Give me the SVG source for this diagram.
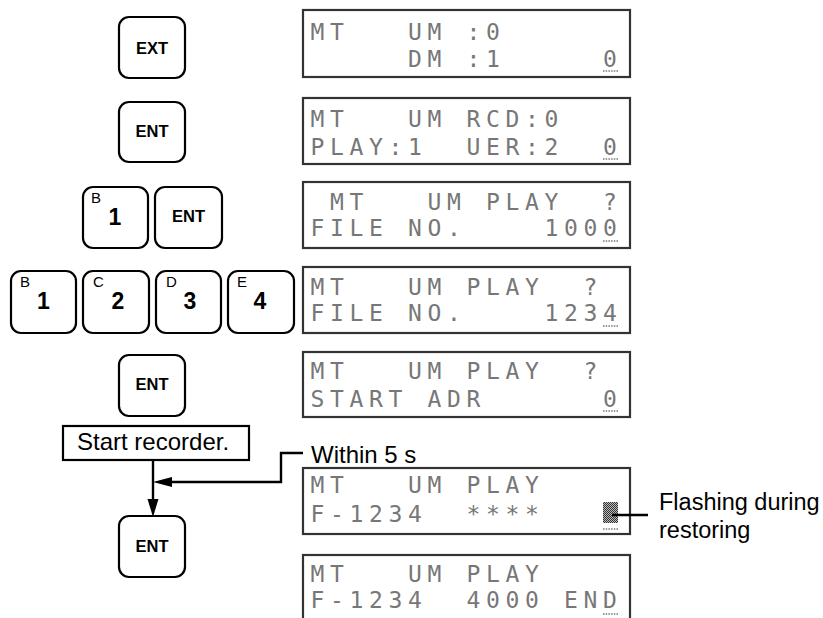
<svg xmlns="http://www.w3.org/2000/svg" width="823" height="618" viewBox="0 0 823 618">
<style>
.key{fill:#fff;stroke:#000;stroke-width:2.2}
.kl{font-family:"Liberation Sans",Arial,sans-serif;font-weight:bold;font-size:16.5px;fill:#000;text-anchor:middle}
.dg{font-family:"Liberation Sans",Arial,sans-serif;font-weight:bold;font-size:23px;fill:#000;text-anchor:middle}
.sl{font-family:"Liberation Sans",Arial,sans-serif;font-size:15px;fill:#000}
.lcd{fill:#fff;stroke:#333;stroke-width:2.2}
.lt{font-family:"DejaVu Sans Mono","Liberation Mono",monospace;font-size:23px;fill:#777;letter-spacing:5.65px;white-space:pre}
.cur{stroke:#777;stroke-width:1.5;stroke-dasharray:1.5 1.2}
.lbl{font-family:"Liberation Sans",Arial,sans-serif;font-size:24px;fill:#000}
.ln{fill:none;stroke:#000;stroke-width:2.4}
</style>
<defs>
<pattern id="chk" width="2" height="2" patternUnits="userSpaceOnUse">
<rect width="2" height="2" fill="#bbb"/>
<rect width="1" height="1" fill="#333"/>
<rect x="1" y="1" width="1" height="1" fill="#333"/>
</pattern>
</defs>

<!-- keys -->
<g id="key-ext"><rect class="key" x="119" y="17" width="66" height="61" rx="10"/><text class="kl" x="152" y="54">EXT</text></g>
<g id="key-ent1"><rect class="key" x="119" y="102" width="66" height="60" rx="10"/><text class="kl" x="152" y="137">ENT</text></g>
<g id="key-b1-r3"><rect class="key" x="83" y="187" width="65" height="61" rx="10"/><text class="sl" x="91" y="203">B</text><text class="dg" x="115" y="225">1</text></g>
<g id="key-ent2"><rect class="key" x="155" y="187" width="67" height="61" rx="10"/><text class="kl" x="188.5" y="222">ENT</text></g>
<g id="key-b1"><rect class="key" x="11" y="271" width="65" height="62" rx="10"/><text class="sl" x="20" y="287">B</text><text class="dg" x="43.5" y="309">1</text></g>
<g id="key-c2"><rect class="key" x="83" y="271" width="66" height="62" rx="10"/><text class="sl" x="93" y="287">C</text><text class="dg" x="118" y="309">2</text></g>
<g id="key-d3"><rect class="key" x="156" y="271" width="65" height="62" rx="10"/><text class="sl" x="166" y="287">D</text><text class="dg" x="190" y="309">3</text></g>
<g id="key-e4"><rect class="key" x="228" y="271" width="66" height="62" rx="10"/><text class="sl" x="237" y="287">E</text><text class="dg" x="260" y="309">4</text></g>
<g id="key-ent3"><rect class="key" x="119" y="355" width="66" height="61" rx="10"/><text class="kl" x="152" y="390">ENT</text></g>
<g id="start-recorder"><rect x="63" y="426" width="186" height="34" fill="#fff" stroke="#000" stroke-width="2.2"/><text class="lbl" x="77" y="450">Start recorder.</text></g>
<g id="key-ent4"><rect class="key" x="119" y="516" width="66" height="61" rx="10"/><text class="kl" x="152" y="552">ENT</text></g>

<!-- displays -->
<g id="lcd1"><rect class="lcd" x="303" y="10" width="327" height="67"/>
<text class="lt" x="310.6" y="40">MT   UM :0</text>
<text class="lt" x="310.6" y="67">     DM :1     0</text>
<line class="cur" x1="603" y1="71" x2="618" y2="71"/></g>

<g id="lcd2"><rect class="lcd" x="303" y="98" width="327" height="66"/>
<text class="lt" x="310.6" y="127">MT   UM RCD:0</text>
<text class="lt" x="310.6" y="155">PLAY:1  UER:2  0</text>
<line class="cur" x1="603" y1="159" x2="618" y2="159"/></g>

<g id="lcd3"><rect class="lcd" x="303" y="182" width="327" height="66"/>
<text class="lt" x="310.6" y="210"> MT   UM PLAY  ?</text>
<text class="lt" x="310.6" y="236">FILE NO.    1000</text>
<line class="cur" x1="603" y1="241" x2="618" y2="241"/></g>

<g id="lcd4"><rect class="lcd" x="303" y="267" width="327" height="66"/>
<text class="lt" x="310.6" y="295">MT   UM PLAY  ?</text>
<text class="lt" x="310.6" y="321">FILE NO.    1234</text>
<line class="cur" x1="603" y1="326" x2="618" y2="326"/></g>

<g id="lcd5"><rect class="lcd" x="303" y="352" width="327" height="65"/>
<text class="lt" x="310.6" y="379">MT   UM PLAY  ?</text>
<text class="lt" x="310.6" y="407">START ADR      0</text>
<line class="cur" x1="603" y1="411" x2="618" y2="411"/></g>

<g id="lcd6"><rect class="lcd" x="303" y="468" width="327" height="66"/>
<text class="lt" x="310.6" y="493">MT   UM PLAY</text>
<text class="lt" x="310.6" y="522">F-1234  ****</text>
<rect x="603" y="502" width="15" height="21" fill="url(#chk)"/>
<line class="cur" x1="603" y1="529" x2="618" y2="529"/></g>

<g id="lcd7"><rect class="lcd" x="303" y="555" width="327" height="70"/>
<text class="lt" x="310.6" y="582">MT   UM PLAY</text>
<text class="lt" x="310.6" y="608">F-1234  4000 END</text>
<line class="cur" x1="603" y1="614" x2="618" y2="614"/></g>

<!-- labels -->
<g id="within-label"><text class="lbl" x="311" y="463">Within 5 s</text></g>
<g id="flash-label"><text class="lbl" x="659" y="510" style="font-size:23.5px">Flashing during</text><text class="lbl" x="659" y="538" style="font-size:23.5px">restoring</text></g>

<!-- connectors -->
<g id="connectors">
<line class="ln" x1="153" y1="460" x2="153" y2="500"/>
<polygon points="147.5,499 158.5,499 153,517" fill="#000"/>
<polyline class="ln" points="171,482 281,482 281,453 303,453"/>
<polygon points="172,477 172,487 153,482" fill="#000"/>
<line class="ln" x1="612" y1="515" x2="648" y2="515"/>
</g>
</svg>
